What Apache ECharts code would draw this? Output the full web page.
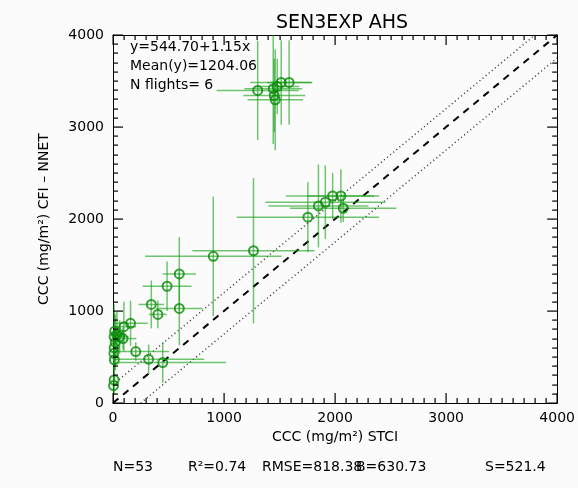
<!DOCTYPE html>
<html><head><meta charset="utf-8">
<script src="https://cdn.jsdelivr.net/npm/echarts@6/dist/echarts.min.js"></script>
<style>html,body{margin:0;padding:0;background:#fbfbfb}#c{width:578px;height:488px}</style>
</head><body><div id="c"></div>
<script>
// x value, y value, x half-error, y half-error
const xVals = [1303,1443,1452,1461,1479,1515,1586,
  1265,1755,1850,1912,1978,2052,2073,
  903,597,487,345,404,597,158,98,205,321,448,
  15,35,60,90,20,10,8,12,10,5,10];
const yVals = [3397,3416,3343,3296,3441,3484,3484,
  1655,2020,2142,2182,2250,2250,2117,
  1594,1403,1269,1071,963,1028,866,830,559,476,440,
  780,740,720,700,660,600,540,470,250,190,720];
const xErr = [370,260,280,250,200,280,200,
  550,640,450,540,420,300,480,
  615,150,220,115,80,210,155,110,300,500,570,
  40,60,80,120,30,20,20,25,15,10,20];
const yErr = [540,600,400,550,300,460,460,
  790,380,450,400,250,290,150,
  650,400,270,260,150,400,245,270,100,160,220,
  200,250,180,120,300,200,180,220,150,100,350];
const oneToOne = [[0,0],[4000,4000]];
const upperBand = [[0,200],[3800,4000]];
const lowerBand = [[250,0],[4000,3750]];
const tickValues = [0,1000,2000,3000,4000];
const minorStep = 100;
const titleText = 'SEN3EXP AHS';
const fitLines = ['y=544.70+1.15x','Mean(y)=1204.06','N flights= 6'];
const statTexts = ['N=53','R\u00b2=0.74','RMSE=818.38','B=630.73','S=521.4'];
const xName = 'CCC (mg/m\u00b2) STCI';
const yName = 'CCC (mg/m\u00b2) CFI \u2013 NNET';

const font = 'DejaVu Sans';
const pts = xVals.map((x,i)=>[x,yVals[i],xErr[i],yErr[i]]);
const axMin = tickValues[0], axMax = tickValues[tickValues.length-1];

function axisCommon(){ return {
  min: axMin, max: axMax, interval: 1000,
  axisLine:{show:true,onZero:false,lineStyle:{color:'#000',width:1}},
  axisTick:{show:false},
  splitLine:{show:false}
};}
const labelStyle = {color:'#000',fontFamily:font,fontSize:14,formatter:v=>String(v)};
const chart = echarts.init(document.getElementById('c'));
const clamp = v => Math.max(axMin, Math.min(axMax, v));
const textGraphics = [
  ...fitLines.map((t,i)=>({type:'text',left:130,top:40+i*19,
    style:{text:t,fontFamily:font,fontSize:14,fill:'#000'}})),
  ...statTexts.map((t,i)=>({type:'text',left:[113,188,262,356,485][i],top:460,
    style:{text:t,fontFamily:font,fontSize:14,fill:'#000'}}))
];
chart.setOption({
  backgroundColor:'#fbfbfb',
  animation:false,
  title:{text:titleText,left:337,top:9,textAlign:'center',
    textStyle:{fontFamily:font,fontSize:19,fontWeight:'normal',color:'#000'}},
  grid:{left:113,right:16,top:35,bottom:85},
  xAxis:[
    Object.assign(axisCommon(),{type:'value',position:'bottom',
      axisLabel:Object.assign({margin:8},labelStyle),
      name:xName,nameLocation:'middle',nameGap:27,
      nameTextStyle:{fontFamily:font,fontSize:14,color:'#000'}}),
    Object.assign(axisCommon(),{type:'value',position:'top',axisLabel:{show:false}})
  ],
  yAxis:[
    Object.assign(axisCommon(),{type:'value',position:'left',
      axisLabel:Object.assign({margin:9},labelStyle),
      name:yName,nameLocation:'middle',nameGap:62,
      nameTextStyle:{fontFamily:font,fontSize:14,color:'#000'}}),
    Object.assign(axisCommon(),{type:'value',position:'right',axisLabel:{show:false}})
  ],
  series:[
    {type:'line',data:upperBand,symbol:'none',lineStyle:{color:'#333',width:1.5,type:[1,3]},z:2},
    {type:'line',data:lowerBand,symbol:'none',lineStyle:{color:'#333',width:1.5,type:[1,3]},z:2},
    {type:'line',data:oneToOne,symbol:'none',lineStyle:{color:'#000',width:2,type:[7,6]},z:2},
    {type:'custom',data:pts,z:3,
      renderItem:function(params,api){
        const x=api.value(0),y=api.value(1),ex=api.value(2),ey=api.value(3);
        const a=api.coord([clamp(x-ex),y]),b=api.coord([clamp(x+ex),y]);
        const c=api.coord([x,clamp(y-ey)]),d=api.coord([x,clamp(y+ey)]);
        const st={stroke:'rgba(20,160,20,0.6)',lineWidth:1.5};
        return {type:'group',children:[
          {type:'line',shape:{x1:a[0],y1:a[1],x2:b[0],y2:b[1]},style:st},
          {type:'line',shape:{x1:c[0],y1:c[1],x2:d[0],y2:d[1]},style:st}
        ]};
      }},
    {type:'scatter',data:pts.map(p=>[p[0],p[1]]),symbol:'circle',symbolSize:9,z:4,
      itemStyle:{color:'rgba(0,0,0,0)',borderColor:'#0a8a0a',borderWidth:2}}
  ],
  graphic:textGraphics
});

// tick marks (inward on all four sides) placed through the axis scales, drawn as filled rects
const tickGraphics = [];
const toPx = p => chart.convertToPixel({gridIndex:0}, p);
for (let v = axMin; v <= axMax; v += minorStep) {
  const L = tickValues.includes(v) ? 10 : 5;
  const b = toPx([v,axMin]), t = toPx([v,axMax]), l = toPx([axMin,v]), r = toPx([axMax,v]);
  const st = {fill:'#000'};
  tickGraphics.push(
    {type:'rect',z:100,silent:true,shape:{x:Math.round(b[0])-0.5,y:b[1]-L,width:1.2,height:L},style:st},
    {type:'rect',z:100,silent:true,shape:{x:Math.round(t[0])-0.5,y:t[1],width:1.2,height:L},style:st},
    {type:'rect',z:100,silent:true,shape:{x:l[0],y:Math.round(l[1])-0.5,width:L,height:1.2},style:st},
    {type:'rect',z:100,silent:true,shape:{x:r[0]-L,y:Math.round(r[1])-0.5,width:L,height:1.2},style:st}
  );
}
chart.setOption({graphic: textGraphics.concat(tickGraphics)});
</script></body></html>
